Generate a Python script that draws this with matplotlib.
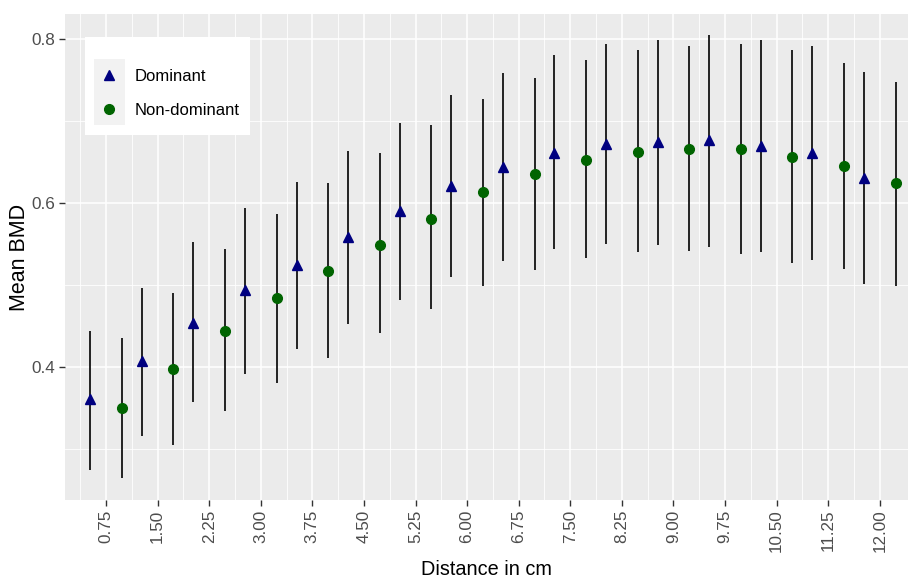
import numpy as np
import matplotlib
matplotlib.use('Agg')
import matplotlib.pyplot as plt
from matplotlib.lines import Line2D
from matplotlib.patches import Rectangle

plt.rcParams['font.family'] = ['Liberation Sans', 'DejaVu Sans']

# distances (cm) where BMD was measured
distance = [0.75, 1.50, 2.25, 3.00, 3.75, 4.50, 5.25, 6.00,
            6.75, 7.50, 8.25, 9.00, 9.75, 10.50, 11.25, 12.00]

dom_mean = [0.361, 0.407, 0.454, 0.494, 0.525, 0.559, 0.590, 0.621,
            0.644, 0.661, 0.672, 0.674, 0.677, 0.670, 0.661, 0.631]
dom_low = [0.275, 0.316, 0.357, 0.392, 0.422, 0.453, 0.482, 0.510,
           0.529, 0.544, 0.550, 0.549, 0.547, 0.540, 0.531, 0.501]
dom_high = [0.444, 0.497, 0.552, 0.594, 0.626, 0.663, 0.698, 0.732,
            0.759, 0.780, 0.794, 0.799, 0.805, 0.799, 0.792, 0.760]

nd_mean = [0.350, 0.398, 0.444, 0.484, 0.517, 0.549, 0.581, 0.613,
           0.636, 0.652, 0.662, 0.666, 0.666, 0.656, 0.645, 0.624]
nd_low = [0.265, 0.305, 0.346, 0.381, 0.411, 0.441, 0.471, 0.499,
          0.519, 0.533, 0.540, 0.542, 0.538, 0.527, 0.520, 0.499]
nd_high = [0.435, 0.490, 0.544, 0.587, 0.624, 0.661, 0.695, 0.727,
           0.753, 0.774, 0.787, 0.792, 0.794, 0.787, 0.771, 0.748]

dodge = 0.23
x = np.array(distance)

fig = plt.figure(figsize=(9.09, 5.79), dpi=100)
ax = fig.add_axes([65 / 909, 79 / 579, 843 / 909, 486 / 579])
ax.set_facecolor('#EBEBEB')
for s in ax.spines.values():
    s.set_visible(False)

ax.set_xlim(0.154, 12.41)
ax.set_ylim(0.238, 0.8305)
ax.set_xticks(distance)
ax.set_xticklabels(['%.2f' % d for d in distance], rotation=90)
ax.set_xticks(x - 0.375, minor=True)
ax.set_yticks([0.4, 0.6, 0.8])
ax.set_yticklabels(['0.4', '0.6', '0.8'])
ax.set_yticks([0.3, 0.5, 0.7], minor=True)
ax.grid(which='major', color='white', lw=1.1)
ax.grid(which='minor', color='white', lw=0.6)
ax.set_axisbelow(True)
ax.tick_params(which='major', length=4, width=1, color='#333333',
               labelsize=12.3, labelcolor='#4D4D4D', pad=3)
ax.tick_params(which='minor', length=0)

ax.vlines(x - dodge, dom_low, dom_high, color='black', lw=1.2, zorder=3)
ax.vlines(x + dodge, nd_low, nd_high, color='black', lw=1.2, zorder=3)
ax.plot(x - dodge, dom_mean, ls='none', marker='^', ms=7.5, color='#000080', zorder=4)
ax.plot(x + dodge, nd_mean, ls='none', marker='o', ms=7, color='#006400', zorder=4)

ax.set_xlabel('Distance in cm', fontsize=14.3, labelpad=5.5)
ax.set_ylabel('Mean BMD', fontsize=15.5, labelpad=1)

# legend box (white) with grey key background, as in ggplot
ax.add_patch(Rectangle((0.0237, 0.751), 0.1957, 0.2016, transform=ax.transAxes,
                       facecolor='white', edgecolor='none', zorder=5))
ax.add_patch(Rectangle((0.0344, 0.7716), 0.0368, 0.1358, transform=ax.transAxes,
                       facecolor='#F2F2F2', edgecolor='none', zorder=6))
handles = [Line2D([], [], ls='none', marker='^', ms=7.5, color='#000080'),
           Line2D([], [], ls='none', marker='o', ms=7, color='#006400')]
leg = ax.legend(handles, ['Dominant', 'Non-dominant'], loc='center left',
                bbox_to_anchor=(0.0344, 0.8365), frameon=False,
                fontsize=12, handlelength=1.78, handletextpad=0.65,
                labelspacing=1.1, borderpad=0, borderaxespad=0)
leg.set_zorder(7)

fig.savefig('out.png', dpi=100)
